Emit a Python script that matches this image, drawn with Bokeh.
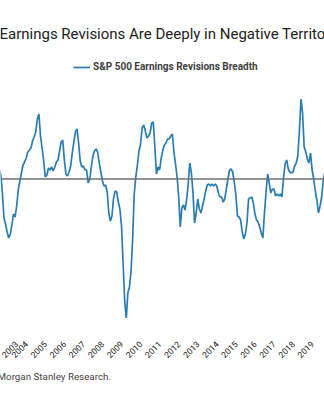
import math
from bokeh.plotting import figure
from bokeh.models import Range1d, Span, Legend, LegendItem, FixedTicker, Title, Label
from bokeh.embed import file_html
from bokeh.resources import INLINE

# Monthly S&P 500 earnings revisions breadth (%), starting August 2002
start_year = 2002 + 7 / 12
breadth = [
    4.0, 1.6, -5.6, -15.6, -18.0, -21.2, -23.6, -22.0, -18.4,
    -14.0, -15.2, -10.8, -4.4, -0.8, 2.4, 5.6, 6.8, 8.4, 10.8, 11.6, 12.4,
    15.2, 16.8, 18.8, 24.0, 26.0, 17.2, 12.4, 7.2, 0.8, 1.6, 4.4, 3.6,
    4.8, 3.2, 4.8, 6.8, 7.6, 11.2, 14.8, 15.6, 7.6, 2.0, 1.2, 2.8,
    5.2, 10.4, 14.8, 18.8, 20.0, 14.4, 7.2, 4.8, 5.2, 3.6, 3.6, -1.6,
    0.0, 4.8, 9.2, 11.2, 12.0, 10.8, 6.4, 2.8, -0.8, -2.8, -2.4, -5.2,
    -13.6, -16.8, -14.8, -7.6, -4.8, -5.2, -9.2, -12.0, -18.8, -33.6, -48.8, -55.6,
    -45.6, -43.2, -36.8, -24.0, -6.0, 0.8, 5.6, 11.2, 14.0, 20.4, 21.6, 19.2,
    16.4, 17.2, 18.4, 22.4, 22.8, 12.8, 2.0, 4.8, 3.6, 8.4, 11.6, 13.6,
    14.4, 16.0, 16.0, 17.2, 18.0, 10.8, 6.0, 0.8, -7.2, -19.2, -11.6, -10.4,
    -12.4, -8.4, -2.0, 6.4, 2.4, -5.6, -17.6, -13.6, -8.0, -12.0, -13.6, -10.8,
    -8.0, -4.8, -2.4, -2.0, -2.8, -2.0, -2.8, -2.0, -2.8, -5.6, -7.2, -7.2,
    -9.2, -8.0, -4.0, 0.0, 3.6, 4.0, 2.8, -1.2, -6.4, -14.8, -15.2, -16.4,
    -21.2, -24.0, -22.0, -17.6, -8.0, -7.6, -7.2, -9.6, -14.0, -16.4, -17.2, -19.2,
    -21.6, -23.6, -13.6, -5.2, 2.0, -1.6, -5.6, -4.0, -4.0, -6.8, -6.0, -6.8,
    -6.0, -7.2, 0.4, 6.0, 7.6, 4.0, 2.8, 2.4, 2.8, 5.2, 6.4, 9.2,
    19.2, 32.0, 26.4, 12.8, 10.8, 8.0, 6.4, 10.4, 3.6, 0.0, -4.8, -8.4,
    -13.6, -10.8, -7.2, -0.8, 2.8, 5.2,
]
years = list(range(2003, 2021))
year_labels = [str(y) for y in years]
title_text = "Earnings Revisions Are Deeply in Negative Territory"
series_name = "S&P 500 Earnings Revisions Breadth"
source_text = "Morgan Stanley Research."

x = [start_year + i / 12 for i in range(len(breadth))]

X0, X1 = 2002.651, 2019.650
p = figure(width=324, height=397, output_backend="svg", toolbar_location=None,
           x_range=Range1d(X0, X1), y_range=Range1d(-63.0, 71.4),
           y_axis_location=None, min_border_left=0, min_border_right=0,
           min_border_top=0, min_border_bottom=61)
p.outline_line_color = None
p.xgrid.visible = False
p.ygrid.visible = False
p.background_fill_color = "white"
p.border_fill_color = "white"

ax = p.xaxis[0]
ax.ticker = FixedTicker(ticks=years)
ax.major_label_overrides = {y: l for y, l in zip(years, year_labels)}
ax.major_label_orientation = math.pi / 4
ax.axis_line_color = None
ax.major_tick_line_color = None
ax.minor_tick_line_color = None
ax.major_tick_out = 0
ax.major_tick_in = 0
ax.major_label_standoff = 6
ax.major_label_text_font = "Roboto"
ax.major_label_text_font_size = "8.5px"
ax.major_label_text_color = "#222222"

p.add_layout(Span(location=0, dimension="width", line_color="#707070", line_width=1.5))

r = p.line(x, breadth, line_color="#2a7db2", line_width=1.7)

p.add_layout(Label(x=X0 - 1 / 19.06, y=(178.5 - 33) * 0.4, text=title_text,
                   text_font="Roboto", text_font_size="15px", text_color="#222222",
                   text_baseline="middle", text_align="left"))

legend = Legend(items=[LegendItem(label=series_name, renderers=[r])],
                location=(73, 264), orientation="horizontal",
                glyph_width=17, glyph_height=10, label_height=10, label_standoff=3,
                padding=0, margin=0, border_line_color=None, background_fill_alpha=0,
                label_text_font="Roboto", label_text_font_size="10px",
                label_text_color="#404040", label_text_font_style="bold")
p.add_layout(legend)

foot = Title(text=source_text, align="left", offset=-3, standoff=10,
             text_font="Roboto", text_font_size="9.8px", text_font_style="normal",
             text_color="#444444")
p.add_layout(foot, "below")

open("out.html", "w").write(file_html(p, INLINE))
